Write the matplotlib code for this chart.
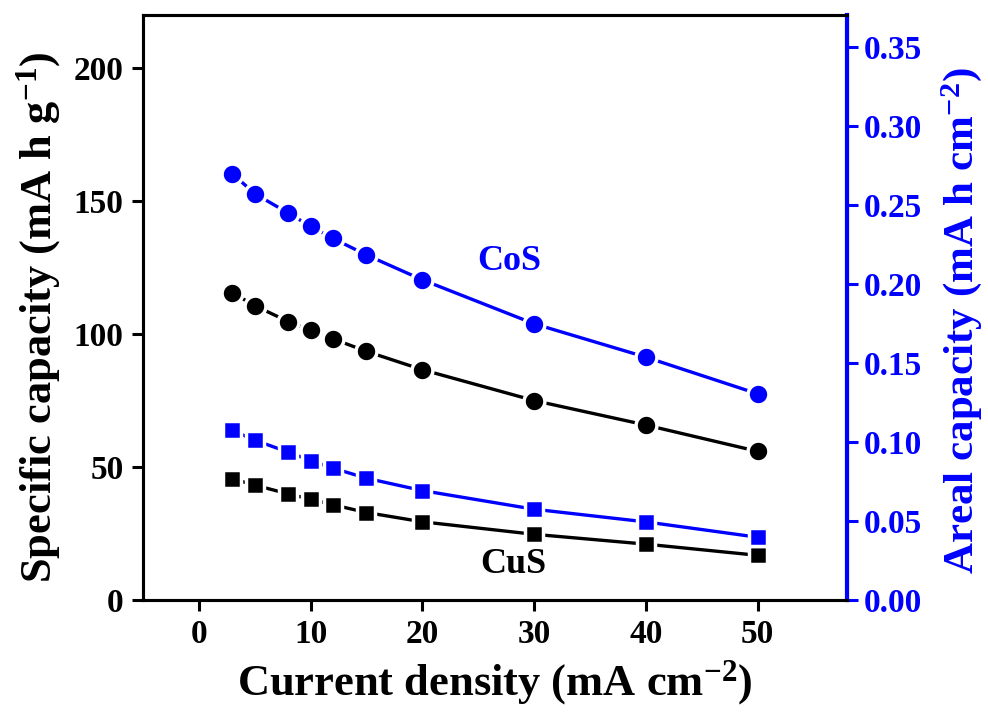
import matplotlib
matplotlib.use('Agg')
import matplotlib.pyplot as plt

plt.rcParams['font.family'] = ['Liberation Serif', 'DejaVu Serif']
plt.rcParams['font.weight'] = 'bold'
plt.rcParams['mathtext.default'] = 'regular'

# current density, mA cm-2
current = [3, 5, 8, 10, 12, 15, 20, 30, 40, 50]

# specific capacity, mA h g-1
cos_specific = [115.5, 110.7, 104.7, 101.4, 98.2, 93.5, 86.6, 75.0, 65.8, 55.9]
cus_specific = [45.6, 43.2, 39.9, 37.9, 35.8, 32.9, 29.4, 24.7, 21.0, 16.8]

# areal capacity, mA h cm-2
cos_areal = [0.2696, 0.2570, 0.2447, 0.2363, 0.2287, 0.2182, 0.2025, 0.1747, 0.1536, 0.1304]
cus_areal = [0.1072, 0.1011, 0.0935, 0.0882, 0.0834, 0.0770, 0.0692, 0.0574, 0.0494, 0.0397]

xticks = [0, 10, 20, 30, 40, 50]
yticks_left = [0, 50, 100, 150, 200]
yticks_right = [0.00, 0.05, 0.10, 0.15, 0.20, 0.25, 0.30, 0.35]

blue = '#0000ff'

fig = plt.figure(figsize=(9.88, 7.13), dpi=100)
ax = fig.add_axes([0.1447, 0.1585, 0.7126, 0.8205])
ax2 = ax.twinx()

# white marker edges leave a small gap between line and symbol
circ = dict(marker='o', ms=15, mew=2.5, mec='white', lw=2.4)
sq = dict(marker='s', ms=13.5, mew=2.5, mec='white', lw=2.4)

ax.plot(current, cos_specific, color='black', mfc='black', **circ)
ax.plot(current, cus_specific, color='black', mfc='black', **sq)
ax2.plot(current, cos_areal, color=blue, mfc=blue, **circ)
ax2.plot(current, cus_areal, color=blue, mfc=blue, **sq)

ax.set_xlim(-5, 58)
ax.set_ylim(0, 220)
ax2.set_ylim(0, 0.37)

ax.set_xticks(xticks)
ax.set_yticks(yticks_left)
ax2.set_yticks(yticks_right)
ax2.set_yticklabels(['%.2f' % v for v in yticks_right])

for a in (ax, ax2):
    for s in a.spines.values():
        s.set_linewidth(2.2)
ax2.spines['right'].set_color(blue)
ax2.spines['right'].set_linewidth(3)

ax.tick_params(axis='both', direction='out', length=8, width=2.2, labelsize=24, pad=6)
ax2.tick_params(axis='y', direction='out', length=8, width=2.2, labelsize=24,
                colors=blue, pad=4)

ax.set_xlabel('Current density (mA cm$^{-2}$)', fontsize=32, fontweight='bold', labelpad=6)
ax.set_ylabel('Specific capacity (mA h g$^{-1}$)', fontsize=32, fontweight='bold')
ax2.set_ylabel('Areal capacity (mA h cm$^{-2}$)', fontsize=31, fontweight='bold', color=blue)
ax.yaxis.set_label_coords(-0.113, 0.483)
ax2.yaxis.set_label_coords(1.13, 0.477)

ax.text(27.75, 127.3, 'CoS', color=blue, fontsize=26, fontweight='bold', ha='center', va='center')
ax.text(28.1, 13.2, 'CuS', color='black', fontsize=26, fontweight='bold', ha='center', va='center')

fig.savefig('out.png', dpi=100)
